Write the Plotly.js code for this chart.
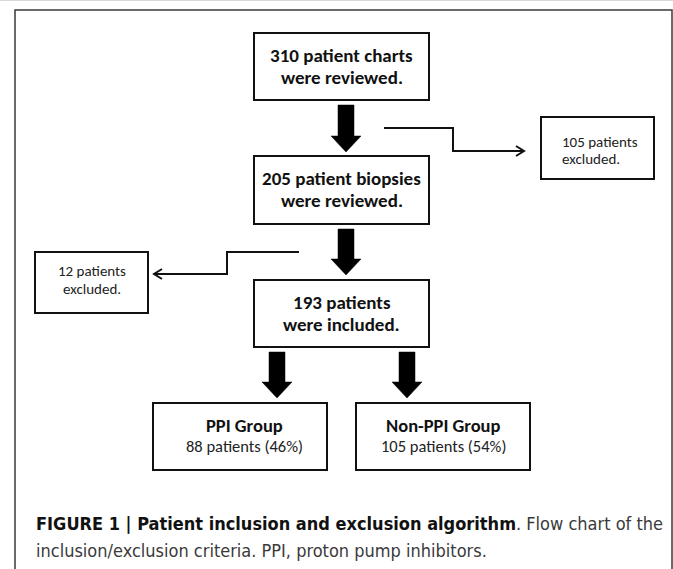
<!DOCTYPE html>
<html>
<head>
<meta charset="utf-8">
<script src="https://cdn.plot.ly/plotly-3.0.1.min.js"></script>
<style>
  html, body { margin: 0; padding: 0; background: #ffffff; }
  #chart { width: 673px; height: 569px; }
</style>
</head>
<body>
<div id="chart"></div>
<script>
// ---------- data ----------
const stageCounts = [310, 205, 193];
const stageNouns = ['patient charts', 'patient biopsies', 'patients'];
const stageStatus = ['were reviewed.', 'were reviewed.', 'were included.'];
const excludedCounts = [105, 12];
const excludedLabel = ['patients', 'excluded.'];
const groupNames = ['PPI Group', 'Non-PPI Group'];
const groupCounts = [88, 105];
const groupShares = [46, 54];
const captionBold = 'FIGURE 1 | Patient inclusion and exclusion algorithm';
const captionRest = ['. Flow chart of the', 'inclusion/exclusion criteria. PPI, proton pump inhibitors.'];

// ---------- layout (positions / styles) ----------
const W = 673, H = 569;
const boxFont = 'Carlito, Calibri, Lato, sans-serif';
const capFont = '"Liberation Sans Narrow", "DejaVu Sans Condensed", "Roboto", sans-serif';
const ink = '#111111';

const stageBoxes = [
  {x0: 254, x1: 429, y0: 33, y1: 100},
  {x0: 254, x1: 429, y0: 156, y1: 224},
  {x0: 254, x1: 429, y0: 280, y1: 347}
];
const exclBoxes = [
  {x0: 541, x1: 654, y0: 117, y1: 179, tx: 560, anchor: 'left', l1: 142, l2: 159},
  {x0: 35, x1: 148, y0: 252, y1: 313, tx: 91.5, anchor: 'center', l1: 271, l2: 289}
];
const groupBoxes = [
  {x0: 153, x1: 327, y0: 403, y1: 470, tx: 244},
  {x0: 356, x1: 530, y0: 403, y1: 470, tx: 443}
];
const bigArrows = [
  {cx: 346, y0: 105, y1: 152},
  {cx: 346, y0: 229, y1: 275},
  {cx: 277, y0: 352, y1: 398},
  {cx: 407, y0: 352, y1: 398}
];
const connectors = [
  {pts: [[384, 128], [453, 128], [453, 151], [524, 151]], dir: 1},
  {pts: [[299, 252], [227, 252], [227, 274], [154, 274]], dir: -1}
];

const shapes = [];
const annotations = [];

// outer frame
shapes.push({type: 'path', path: `M15,${H + 5} L15,10 L672,10 L672,${H + 5}`,
  line: {color: '#3a3a3a', width: 1.5}});
shapes.push({type: 'line', x0: 0, x1: W, y0: 0.5, y1: 0.5, line: {color: '#d8d8d8', width: 1}});

function addBox(b) {
  shapes.push({type: 'rect', x0: b.x0, x1: b.x1, y0: b.y0, y1: b.y1,
    line: {color: ink, width: 2}, fillcolor: 'rgba(0,0,0,0)'});
}
function addText(x, y, text, size, opts) {
  annotations.push(Object.assign({
    x: x, y: y, xref: 'x', yref: 'y', text: text, showarrow: false,
    xanchor: 'center', yanchor: 'middle',
    font: {family: boxFont, size: size, color: ink}
  }, opts || {}));
}

// stage boxes
stageBoxes.forEach((b, i) => {
  addBox(b);
  const cx = (b.x0 + b.x1) / 2;
  addText(cx, b.y0 + 22, `<b>${stageCounts[i]} ${stageNouns[i]}</b>`, 19);
  addText(cx, b.y0 + 44, `<b>${stageStatus[i]}</b>`, 19);
});

// excluded boxes
exclBoxes.forEach((b, i) => {
  addBox(b);
  addText(b.tx, b.l1, `${excludedCounts[i]} ${excludedLabel[0]}`, 15, {xanchor: b.anchor, font: {family: boxFont, size: 15, color: '#222222'}});
  addText(b.tx, b.l2, excludedLabel[1], 15, {xanchor: b.anchor, font: {family: boxFont, size: 15, color: '#222222'}});
});

// group boxes
groupBoxes.forEach((b, i) => {
  addBox(b);
  addText(b.tx, 425, `<b>${groupNames[i]}</b>`, 18.5);
  addText(b.tx, 446, `${groupCounts[i]} patients (${groupShares[i]}%)`, 16.5, {font: {family: boxFont, size: 16.5, color: '#222222'}});
});

// thick block arrows
const shaftW = 16, headW = 30, headL = 16;
bigArrows.forEach(a => {
  const hs = a.y1 - headL;
  const p = `M${a.cx - shaftW / 2},${a.y0} L${a.cx + shaftW / 2},${a.y0} L${a.cx + shaftW / 2},${hs} ` +
            `L${a.cx + headW / 2},${hs} L${a.cx},${a.y1} L${a.cx - headW / 2},${hs} L${a.cx - shaftW / 2},${hs} Z`;
  shapes.push({type: 'path', path: p, fillcolor: '#000000', line: {color: '#000000', width: 0.5}});
});

// thin elbow connectors with chevron heads
connectors.forEach(c => {
  const p = c.pts.map((q, k) => (k ? 'L' : 'M') + q[0] + ',' + q[1]).join(' ');
  shapes.push({type: 'path', path: p, line: {color: ink, width: 2}});
  const tip = c.pts[c.pts.length - 1];
  const back = tip[0] - c.dir * 8;
  shapes.push({type: 'path', path: `M${back},${tip[1] - 5} L${tip[0]},${tip[1]} L${back},${tip[1] + 5}`,
    line: {color: ink, width: 2}});
});

// caption
annotations.push({x: 34, y: 523, xref: 'x', yref: 'y', showarrow: false, xanchor: 'left', yanchor: 'middle',
  text: `<b>${captionBold}</b><span style="color:#3a3a3a">${captionRest[0]}</span>`,
  font: {family: capFont, size: 18, color: '#111111'}});
annotations.push({x: 34, y: 550, xref: 'x', yref: 'y', showarrow: false, xanchor: 'left', yanchor: 'middle',
  text: captionRest[1],
  font: {family: capFont, size: 18, color: '#3a3a3a'}});

const layout = {
  width: W, height: H,
  margin: {l: 0, r: 0, t: 0, b: 0},
  paper_bgcolor: '#ffffff', plot_bgcolor: '#ffffff',
  showlegend: false,
  xaxis: {range: [0, W], visible: false, fixedrange: true},
  yaxis: {range: [H, 0], visible: false, fixedrange: true},
  shapes: shapes,
  annotations: annotations
};

Plotly.newPlot('chart', [{x: [], y: [], type: 'scatter', mode: 'markers', hoverinfo: 'skip'}], layout,
  {displayModeBar: false, staticPlot: true});
</script>
</body>
</html>
